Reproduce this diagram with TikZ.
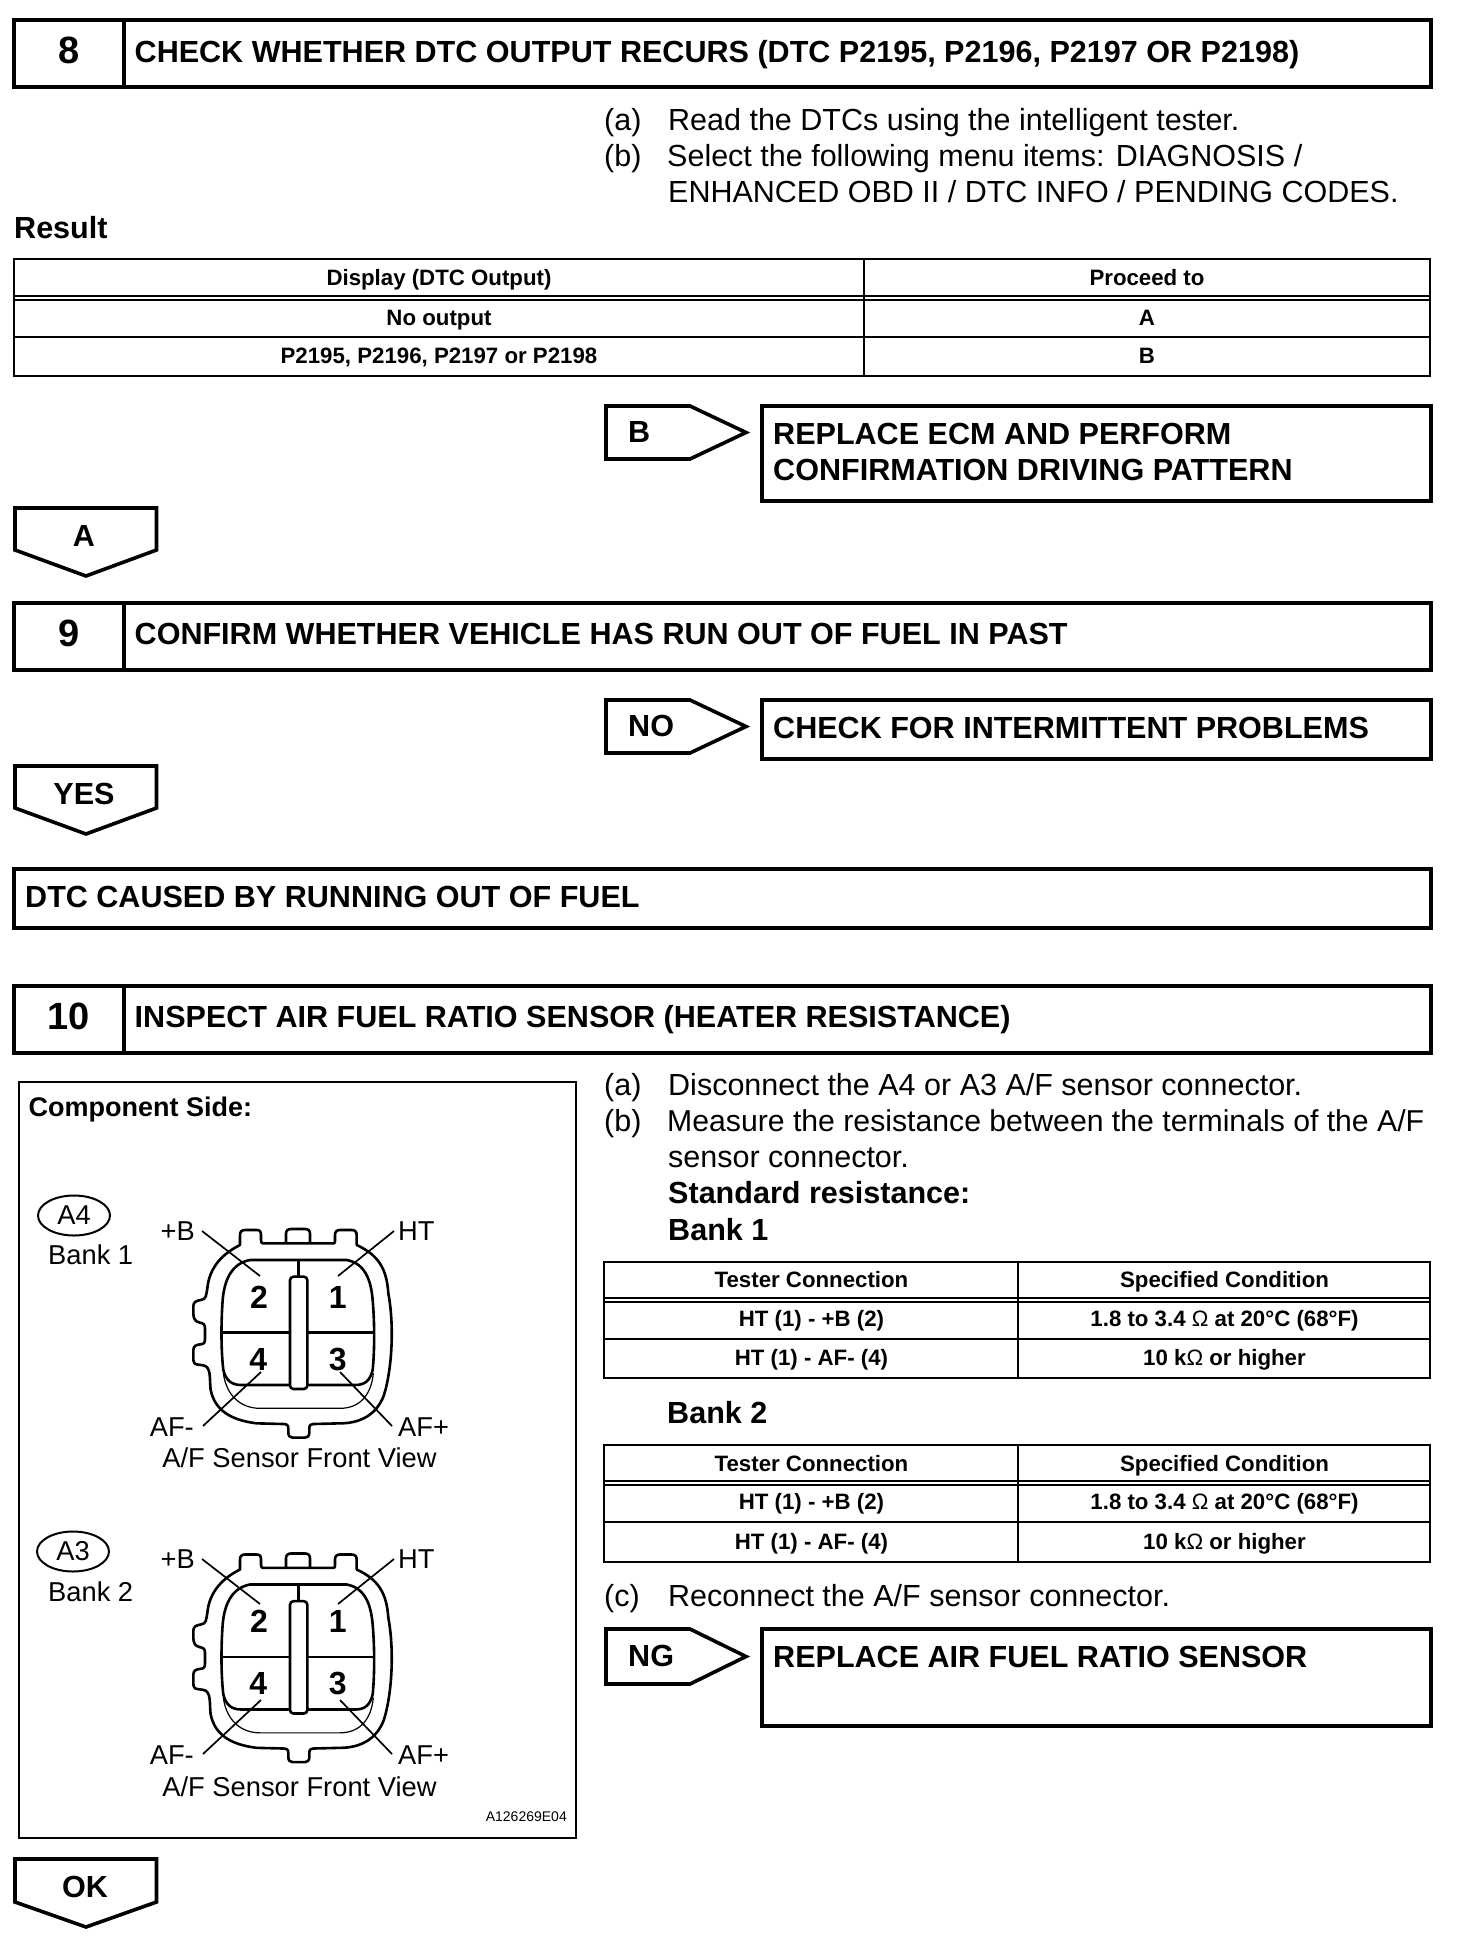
\documentclass[tikz,border=0pt]{standalone}
\usepackage{fontspec}
\usetikzlibrary{shapes.geometric}
\setmainfont{Liberation Sans}
\newcommand{\ftitle}{\fontsize{30.55}{36}\selectfont\bfseries}
\newcommand{\fbody}{\fontsize{30.5}{36}\selectfont}
\newcommand{\ftable}{\fontsize{22.25}{27}\selectfont\bfseries}
\newcommand{\fnum}{\fontsize{38}{44}\selectfont\bfseries}
\newcommand{\fconn}{\fontsize{27.3}{32}\selectfont}
\tikzset{
  heavy/.style={draw=black,line width=3.6pt,line join=miter},
  tline/.style={draw=black,line width=2pt},
  tframe/.style={draw=black,line width=2.6pt},
  panelbox/.style={draw=black,line width=2.6pt},
  ttl/.style={anchor=base west,inner sep=0pt,font=\ftitle},
  tagtxt/.style={anchor=base,inner sep=0pt,font=\ftitle},
  numtxt/.style={anchor=base,inner sep=0pt,font=\fnum},
  bodytxt/.style={anchor=base west,inner sep=0pt,font=\fbody},
  celltxt/.style={anchor=base,inner sep=0pt,font=\ftable},
  conntxtl/.style={anchor=base west,inner sep=0pt,font=\fconn},
  conntxtr/.style={anchor=base east,inner sep=0pt,font=\fconn},
  conntxtc/.style={anchor=base,inner sep=0pt,font=\fconn},
  pinnum/.style={anchor=base,inner sep=0pt,font=\fontsize{32}{38}\selectfont\bfseries},
  connline/.style={draw=black,line width=2.6pt,line join=round},
  connthin/.style={draw=black,line width=1.2pt},
  leadline/.style={draw=black,line width=1.7pt},
}
\newcommand{\stepbox}[2]{% top, bottom
  \draw[heavy] (14,#1) rectangle (1431,#2);
  \draw[heavy] (124,#1) -- (124,#2);
}
\newcommand{\rightpent}[2]{% top, bottom
  \draw[heavy] (606,#1) -- (690,#1) -- (746,{(#1+#2)/2}) -- (690,#2) -- (606,#2) -- cycle;
}
\newcommand{\downpent}[3]{% top, shoulder, tip
  \draw[heavy] (15,#1) -- (156.5,#1) -- (156.5,#2) -- (86,#3) -- (15,#2) -- cycle;
}
\newcommand{\sensorbody}{%
  \draw[connline] (278,100) -- (492,100)
    .. controls (495,100) and (495,96) .. (495,90) -- (495,75)
    .. controls (495,65) and (500,60) .. (510,60) -- (545,60)
    .. controls (555,60) and (560,65) .. (560,75) -- (560,105)
    .. controls (625,135) and (650,175) .. (655,250)
    .. controls (672,340) and (668,470) .. (642,555)
    .. controls (620,615) and (570,640) .. (510,640)
    -- (430,642) .. controls (422,642) and (418,645) .. (418,655) -- (418,668)
    .. controls (418,678) and (412,683) .. (405,683) -- (368,683)
    .. controls (360,683) and (355,678) .. (355,668) -- (355,655)
    .. controls (355,645) and (350,642) .. (340,642) -- (260,640)
    .. controls (180,630) and (135,600) .. (122,540)
    .. controls (118,510) and (125,470) .. (100,466)
    -- (85,464) .. controls (72,464) and (70,455) .. (70,445) -- (70,420)
    .. controls (70,407) and (80,404) .. (92,403)
    .. controls (103,402) and (105,397) .. (105,385) -- (105,355)
    .. controls (105,343) and (100,340) .. (90,338)
    .. controls (75,335) and (70,325) .. (70,310) -- (70,288)
    .. controls (70,276) and (80,272) .. (92,270)
    .. controls (110,268) and (108,255) .. (112,235)
    .. controls (118,170) and (160,130) .. (210,105) -- (210,75)
    .. controls (210,65) and (215,60) .. (225,60) -- (260,60)
    .. controls (270,60) and (273,65) .. (273,75) -- (273,90)
    .. controls (273,96) and (275,100) .. (278,100) -- cycle;
  \draw[connline] (348,100) -- (348,72) .. controls (348,62) and (353,57) .. (363,57)
    -- (405,57) .. controls (415,57) and (420,62) .. (420,72) -- (420,100);
  \draw[connline] (240,150) -- (530,150)
    .. controls (585,160) and (603,210) .. (608,270)
    .. controls (614,340) and (614,420) .. (608,480)
    .. controls (600,512) and (585,525) .. (555,525) -- (215,525)
    .. controls (185,525) and (168,512) .. (160,480)
    .. controls (153,420) and (153,340) .. (158,270)
    .. controls (163,210) and (185,160) .. (240,150) -- cycle;
  \draw[connthin] (160,490) .. controls (170,560) and (215,595) .. (270,595) -- (510,595)
    .. controls (565,595) and (603,560) .. (610,490);
  \draw[connline] (385,150) -- (385,200);
  \draw[connline] (155,367) -- (360,367);
  \draw[connline] (412,367) -- (612,367);
  \draw[connline,fill=white,rounded corners=3.5pt] (360,200) rectangle (412,537);
}
\begin{document}
\begin{tikzpicture}[x=1pt,y=-1pt]
\useasboundingbox (0,0) rectangle (1472,1946);

% ---- step 8
\stepbox{20}{87}
\node[numtxt] (n8) at (69,63) {8};
\node[ttl] (t8) at (134.5,62) {CHECK WHETHER DTC OUTPUT RECURS (DTC P2195, P2196, P2197 OR P2198)};
\node[bodytxt] (a8l) at (604,130) {(a)};
\node[bodytxt] (a8) at (668,130) {Read the DTCs using the intelligent tester.};
\node[bodytxt] (b8l) at (604,166) {(b)};
\node[bodytxt] (b8) at (667,166) {Select the following menu items: DIAGNOSIS /};
\node[bodytxt] (c8) at (668,202) {ENHANCED OBD II / DTC INFO / PENDING CODES.};
\node[ttl] (result) at (14,238) {Result};

% result table
\draw[tframe] (14,259) rectangle (1430,376);
\draw[tline] (14,296) -- (1430,296);
\draw[tline] (14,300) -- (1430,300);
\draw[tline] (14,337) -- (1430,337);
\draw[tline] (864,259) -- (864,376);
\node[celltxt] (r1a) at (439,285) {Display (DTC Output)};
\node[celltxt] (r1b) at (1147,285) {Proceed to};
\node[celltxt] (r2a) at (439,325) {No output};
\node[celltxt] (r2b) at (1147,325) {A};
\node[celltxt] (r3a) at (439,363) {P2195, P2196, P2197 or P2198};
\node[celltxt] (r3b) at (1147,363) {B};

% B branch
\rightpent{406}{459}
\node[ttl] (tagB) at (628,442) {B};
\draw[heavy] (762,406) rectangle (1431,501);
\node[ttl] (repl1) at (773,444) {REPLACE ECM AND PERFORM};
\node[ttl] (repl2) at (773,480) {CONFIRMATION DRIVING PATTERN};

% A
\downpent{508}{550}{576}
\node[tagtxt] (tagA) at (84,546) {A};

% ---- step 9
\stepbox{603}{670}
\node[numtxt] (n9) at (69,646) {9};
\node[ttl] (t9) at (134.5,644) {CONFIRM WHETHER VEHICLE HAS RUN OUT OF FUEL IN PAST};
\rightpent{700}{753}
\node[ttl] (tagNO) at (628,736) {NO};
\draw[heavy] (762,700) rectangle (1431,759);
\node[ttl] (chk) at (773,738) {CHECK FOR INTERMITTENT PROBLEMS};
\downpent{766}{808}{834}
\node[tagtxt] (tagYES) at (84,804) {YES};
\draw[heavy] (14,869) rectangle (1431,928);
\node[ttl] (caused) at (25,907) {DTC CAUSED BY RUNNING OUT OF FUEL};

% ---- step 10
\stepbox{986}{1053}
\node[numtxt] (n10) at (69,1029) {10};
\node[ttl] (t10) at (134.5,1027) {INSPECT AIR FUEL RATIO SENSOR (HEATER RESISTANCE)};

% component panel
\draw[panelbox] (19,1082) rectangle (576,1838);
\node[anchor=base west,inner sep=0pt,font=\fontsize{27}{32}\selectfont\bfseries] (comp) at (28.5,1116) {Component Side:};
\node[draw=black,line width=2pt,ellipse,minimum width=72pt,minimum height=40pt,inner sep=0pt,font=\fconn] (A4) at (74,1215.5) {A4};
\node[conntxtl] (bank1) at (48,1264) {Bank 1};

\begin{scope}[shift={(170,1210)},x=0.33333pt,y=-0.33333pt]
  \sensorbody
  \node[pinnum] (p2a) at (267,295) {2};
  \node[pinnum] (p1a) at (503,295) {1};
  \node[pinnum] (p4a) at (265,480) {4};
  \node[pinnum] (p3a) at (503,480) {3};
\end{scope}
\node[conntxtr] (pba) at (195,1240) {+B};
\node[conntxtl] (hta) at (398,1240) {HT};
\node[conntxtr] (afma) at (194,1436) {AF-};
\node[conntxtl] (afpa) at (398,1436) {AF+};
\coordinate (c1a) at (202,1231);\coordinate (c1b) at (260,1276);
\coordinate (c2a) at (394,1231);\coordinate (c2b) at (338,1276);
\coordinate (c3a) at (203,1426);\coordinate (c3b) at (261,1372);
\coordinate (c4a) at (392,1426);\coordinate (c4b) at (340,1372);
\draw[leadline] (c1a) -- (c1b);
\draw[leadline] (c2a) -- (c2b);
\draw[leadline] (c3a) -- (c3b);
\draw[leadline] (c4a) -- (c4b);
\node[conntxtc] (fv1) at (299.5,1467) {A/F Sensor Front View};

\node[draw=black,line width=2pt,ellipse,minimum width=72pt,minimum height=40pt,inner sep=0pt,font=\fconn] (A3) at (73,1551.5) {A3};
\node[conntxtl] (bank2) at (48,1601) {Bank 2};

\begin{scope}[shift={(170,1534.5)},x=0.33333pt,y=-0.33333pt]
  \sensorbody
  \node[pinnum] (p2b) at (267,295) {2};
  \node[pinnum] (p1b) at (503,295) {1};
  \node[pinnum] (p4b) at (265,480) {4};
  \node[pinnum] (p3b) at (503,480) {3};
\end{scope}
\node[conntxtr] (pbb) at (195,1568) {+B};
\node[conntxtl] (htb) at (398,1568) {HT};
\node[conntxtr] (afmb) at (194,1764) {AF-};
\node[conntxtl] (afpb) at (398,1764) {AF+};
\coordinate (d1a) at (202,1559);\coordinate (d1b) at (260,1604);
\coordinate (d2a) at (394,1559);\coordinate (d2b) at (338,1604);
\coordinate (d3a) at (203,1754);\coordinate (d3b) at (261,1700);
\coordinate (d4a) at (392,1754);\coordinate (d4b) at (340,1700);
\draw[leadline] (d1a) -- (d1b);
\draw[leadline] (d2a) -- (d2b);
\draw[leadline] (d3a) -- (d3b);
\draw[leadline] (d4a) -- (d4b);
\node[conntxtc] (fv2) at (299.5,1796) {A/F Sensor Front View};
\node[anchor=base east,inner sep=0pt,font=\fontsize{14}{16}\selectfont] (code) at (567,1821) {A126269E04};

% OK
\downpent{1859}{1902}{1927}
\node[tagtxt] (tagOK) at (85,1897) {OK};

% right column, step 10
\node[bodytxt] (a10l) at (604,1095) {(a)};
\node[bodytxt] (a10) at (668,1095) {Disconnect the A4 or A3 A/F sensor connector.};
\node[bodytxt] (b10l) at (604,1131) {(b)};
\node[bodytxt,font=\fontsize{30.2}{36}\selectfont] (b10) at (667,1131) {Measure the resistance between the terminals of the A/F};
\node[bodytxt] (b10b) at (668,1167.5) {sensor connector.};
\node[ttl] (std) at (668,1203.5) {Standard resistance:};
\node[ttl] (bk1) at (668,1240) {Bank 1};

% table bank 1
\draw[tframe] (604,1262) rectangle (1430,1378);
\draw[tline] (604,1298) -- (1430,1298);
\draw[tline] (604,1302) -- (1430,1302);
\draw[tline] (604,1339) -- (1430,1339);
\draw[tline] (1017.5,1262) -- (1017.5,1378);
\node[celltxt] (u1a) at (811.5,1287) {Tester Connection};
\node[celltxt] (u1b) at (1224.5,1287) {Specified Condition};
\node[celltxt] (u2a) at (811.5,1326) {HT (1) - +B (2)};
\node[celltxt] (u2b) at (1224.5,1326) {1.8 to 3.4 {\mdseries Ω} at 20°C (68°F)};
\node[celltxt] (u3a) at (811.5,1365) {HT (1) - AF- (4)};
\node[celltxt] (u3b) at (1224.5,1365) {10 k{\mdseries Ω} or higher};

\node[ttl] (bk2) at (667,1423) {Bank 2};

% table bank 2
\draw[tframe] (604,1445) rectangle (1430,1562);
\draw[tline] (604,1481) -- (1430,1481);
\draw[tline] (604,1485) -- (1430,1485);
\draw[tline] (604,1522) -- (1430,1522);
\draw[tline] (1017.5,1445) -- (1017.5,1562);
\node[celltxt] (v1a) at (811.5,1471) {Tester Connection};
\node[celltxt] (v1b) at (1224.5,1471) {Specified Condition};
\node[celltxt] (v2a) at (811.5,1509) {HT (1) - +B (2)};
\node[celltxt] (v2b) at (1224.5,1509) {1.8 to 3.4 {\mdseries Ω} at 20°C (68°F)};
\node[celltxt] (v3a) at (811.5,1549) {HT (1) - AF- (4)};
\node[celltxt] (v3b) at (1224.5,1549) {10 k{\mdseries Ω} or higher};

\node[bodytxt] (c10l) at (604,1606) {(c)};
\node[bodytxt] (c10) at (668,1606) {Reconnect the A/F sensor connector.};

\rightpent{1629}{1684}
\node[ttl] (tagNG) at (628,1666) {NG};
\draw[heavy] (762,1629) rectangle (1431,1726);
\node[ttl] (repl3) at (773,1667) {REPLACE AIR FUEL RATIO SENSOR};
\end{tikzpicture}
\end{document}
